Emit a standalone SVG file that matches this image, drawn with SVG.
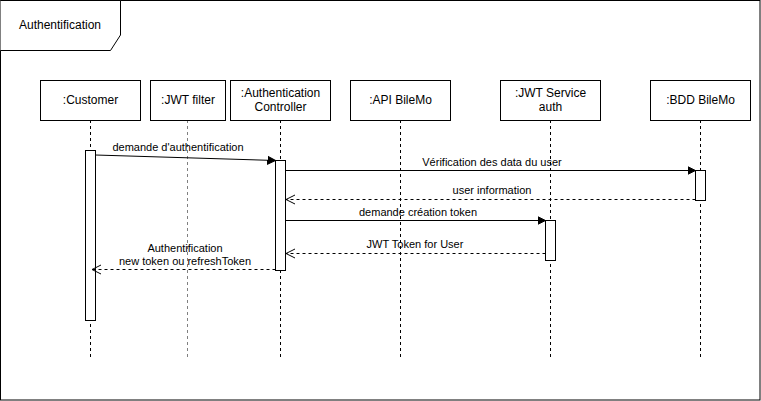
<svg xmlns="http://www.w3.org/2000/svg" width="761" height="401" viewBox="0 0 761 401">
<style>
.bg{fill:#ffffff}
.box{fill:#ffffff;stroke:#000000;stroke-width:1}
.t{font-family:"Liberation Sans",Arial,sans-serif;font-size:12px;fill:#000000;text-anchor:middle}
.m{font-family:"Liberation Sans",Arial,sans-serif;font-size:11px;fill:#000000;text-anchor:middle}
.life{stroke:#000000;stroke-width:1;stroke-dasharray:3 3;fill:none}
.lifeg{stroke:#808080;stroke-width:1;stroke-dasharray:3 3;fill:none}
.act{fill:#ffffff;stroke:#000000;stroke-width:1}
.msg{stroke:#000000;stroke-width:1;fill:none}
.ret{stroke:#000000;stroke-width:1;fill:none;stroke-dasharray:3 3}
</style>
<defs>
<marker id="block" markerWidth="10" markerHeight="10" refX="8" refY="4" orient="auto" markerUnits="userSpaceOnUse" viewBox="0 0 10 8">
<path d="M0,0 L8,4 L0,8 Z" fill="#000000" stroke="#000000" stroke-width="1"/>
</marker>
<marker id="open" markerWidth="12" markerHeight="12" refX="9" refY="5" orient="auto" markerUnits="userSpaceOnUse" viewBox="0 0 12 10">
<path d="M0,0.5 L9,5 L0,9.5" fill="none" stroke="#000000" stroke-width="1"/>
</marker>
</defs>
<rect class="bg" x="0" y="0" width="761" height="401"/>
<g id="frame">
<rect x="0.5" y="0.5" width="759.5" height="399.5" fill="none" stroke="#000000" stroke-width="1"/>
<path d="M0.5,0.5 H120.5 V35 L110.5,50.5 H0.5" fill="#ffffff" stroke="#000000" stroke-width="1"/>
<text class="t" x="60" y="29">Authentification</text>
</g>
<g id="lifelines">
<line class="life" x1="90.5" y1="120" x2="90.5" y2="357"/>
<line class="lifeg" x1="187.5" y1="120" x2="187.5" y2="357"/>
<line class="life" x1="280.5" y1="120" x2="280.5" y2="357"/>
<line class="life" x1="400.5" y1="120" x2="400.5" y2="357"/>
<line class="life" x1="550.5" y1="120" x2="550.5" y2="357"/>
<line class="life" x1="700.5" y1="120" x2="700.5" y2="357"/>
</g>
<g id="customer">
<rect class="box" x="40.5" y="80.5" width="100" height="40"/>
<text class="t" x="90.5" y="104">:Customer</text>
<rect class="act" x="85.5" y="150.5" width="10" height="170"/>
</g>
<g id="jwtfilter">
<rect class="box" x="150.5" y="80.5" width="75" height="40"/>
<text class="t" x="188" y="104">:JWT filter</text>
</g>
<g id="authcontroller">
<rect class="box" x="230.5" y="80.5" width="100" height="40"/>
<text class="t" x="280.5" y="97">:Authentication</text>
<text class="t" x="280.5" y="111">Controller</text>
<rect class="act" x="275.5" y="160.5" width="10" height="110"/>
</g>
<g id="api">
<rect class="box" x="350.5" y="80.5" width="100" height="40"/>
<text class="t" x="400.5" y="104">:API BileMo</text>
</g>
<g id="jwtservice">
<rect class="box" x="500.5" y="80.5" width="100" height="40"/>
<text class="t" x="550.5" y="97">:JWT Service</text>
<text class="t" x="550.5" y="111">auth</text>
<rect class="act" x="545.5" y="220.5" width="10" height="40"/>
</g>
<g id="bdd">
<rect class="box" x="650.5" y="80.5" width="100" height="40"/>
<text class="t" x="700.5" y="104">:BDD BileMo</text>
<rect class="act" x="695.5" y="170.5" width="10" height="30"/>
</g>
<g id="connectors">
<line class="msg" x1="95.5" y1="155" x2="275.5" y2="160.5" marker-end="url(#block)"/>
<text class="m" x="178" y="151">demande d'authentification</text>
<line class="msg" x1="285.5" y1="170.5" x2="695.5" y2="170.5" marker-end="url(#block)"/>
<text class="m" x="492" y="166">Vérification des data du user</text>
<line class="ret" x1="695.5" y1="199.5" x2="286" y2="199.5" marker-end="url(#open)"/>
<text class="m" x="492" y="194">user information</text>
<line class="msg" x1="285.5" y1="220.5" x2="545.5" y2="220.5" marker-end="url(#block)"/>
<text class="m" x="418" y="216">demande création token</text>
<line class="ret" x1="545.5" y1="253.5" x2="286" y2="253.5" marker-end="url(#open)"/>
<text class="m" x="415" y="248">JWT Token for User</text>
<line class="ret" x1="275.5" y1="269.5" x2="92" y2="269.5" marker-end="url(#open)"/>
<text class="m" x="185" y="252">Authentification</text>
<text class="m" x="185" y="265">new token ou refreshToken</text>
</g>
</svg>
